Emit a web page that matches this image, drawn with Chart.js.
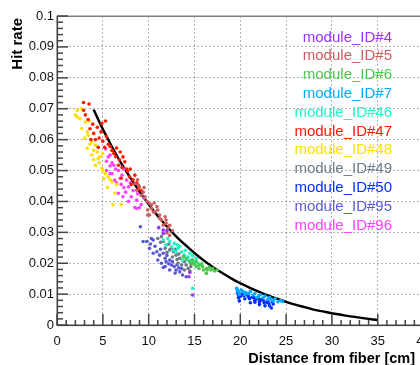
<!DOCTYPE html>
<html>
<head>
<meta charset="utf-8">
<script src="https://cdn.jsdelivr.net/npm/chart.js@4/dist/chart.umd.min.js"></script>
<style>
  html, body { margin: 0; padding: 0; background: #fff; overflow: hidden; }
  #wrap { width: 420px; height: 365px; overflow: hidden; }
</style>
</head>
<body>
<div id="wrap"><canvas id="c" width="440" height="365"></canvas></div>
<script>
/* ====================================================
   HIT RATE vs DISTANCE FROM FIBER (estilo ROOT)
   ==================================================== */

// Eixos
const xTicks = [0, 5, 10, 15, 20, 25, 30, 35, 40];
const yTicks = [0, 0.01, 0.02, 0.03, 0.04, 0.05, 0.06, 0.07, 0.08, 0.09, 0.1];

// Rótulos e cores de cada módulo (ordem da legenda)
const moduleLabels = ['module_ID#4', 'module_ID#5', 'module_ID#6', 'module_ID#7', 'module_ID#46',
    'module_ID#47', 'module_ID#48', 'module_ID#49', 'module_ID#50', 'module_ID#95', 'module_ID#96'];
const moduleColors = ['#9b30ff', '#cd5c5c', '#4cc84c', '#00aaff', '#20f5c8',
    '#ff1a00', '#ffe000', '#6e7b85', '#0030ff', '#5a5ad6', '#ff40ff'];

// Pontos [distância cm, hit rate]
const id4 = [[11.1,0.0315],[11.6,0.0307],[11.6,0.0296],[12.0,0.0305],[14.4,0.0156],[14.8,0.0097],[14.5,0.0170]];

const id5 = [[8.5,0.0458],[8.9,0.0453],[8.7,0.0436],[9.4,0.043],[9.6,0.0415],[9.8,0.040],[10.1,0.0393],[10.3,0.0377],
    [10.5,0.0366],[10.9,0.0383],[10.1,0.0356],[11.2,0.0356],[11.4,0.034],[11.8,0.035],[11.9,0.0329],[12.3,0.0323],
    [9.9,0.0356],[10.7,0.0366],[11.2,0.0345],[11.6,0.0323],[11.9,0.034],[12.1,0.0313],[12.3,0.029],[9.9,0.0372],
    [10.3,0.0388],[9.0,0.0447],[9.2,0.042],[8.8,0.047],[10.6,0.0395],[11.0,0.0372],[12.6,0.0305],[9.5,0.0445],[12.0,0.0298]];

const id6 = [[14.1,0.0216],[14.5,0.0205],[14.8,0.021],[14.8,0.020],[15.2,0.0205],[15.2,0.0189],[15.5,0.0194],
    [15.5,0.0183],[15.9,0.0189],[16.3,0.0183],[16.4,0.0178],[16.8,0.0178],[16.3,0.0167],[17.0,0.0183],[17.5,0.0178],
    [16.6,0.0186],[15.8,0.0198],[16.0,0.0178],[17.2,0.0175],[13.8,0.0222],[15.0,0.0196]];

const id7 = [[19.6,0.0119],[19.7,0.0112],[19.8,0.0106],[20.1,0.0113],[20.3,0.0108],[20.6,0.0105],[20.9,0.0102],
    [21.1,0.0108],[21.4,0.0097],[21.6,0.0102],[22.0,0.0092],[22.2,0.0098],[22.5,0.0088],[22.7,0.0094],[23.0,0.0083],
    [23.2,0.0089],[23.6,0.0078],[23.8,0.0085],[24.1,0.0075],[24.4,0.0079],[24.6,0.0076],[20.5,0.0099],[21.8,0.0089],
    [23.4,0.0082],[19.9,0.0099]];

const id46 = [[11.6,0.0275],[11.9,0.0259],[12.1,0.028],[12.3,0.027],[12.5,0.0253],[12.8,0.0264],[13.2,0.0248],
    [13.0,0.0237],[13.6,0.0237],[13.9,0.0226],[14.3,0.022],[14.6,0.021],[15.0,0.0205],[15.4,0.020],[15.7,0.0194],
    [13.7,0.021],[14.8,0.0119],[13.4,0.0255],[14.0,0.0242],[14.5,0.0232],[12.7,0.0242],[14.2,0.021],[15.2,0.0215],
    [13.1,0.026],[14.8,0.0225]];

const id47 = [[2.9,0.072],[3.5,0.0715],[2.9,0.0695],[3.1,0.068],[3.4,0.0665],[3.9,0.065],[4.4,0.064],[4.9,0.0652],
    [5.3,0.066],[3.6,0.0635],[4.0,0.062],[4.2,0.060],[4.6,0.0605],[5.0,0.0595],[5.4,0.061],[5.8,0.0578],[6.5,0.0573],
    [6.9,0.056],[6.2,0.0555],[7.2,0.0544],[7.4,0.0528],[7.1,0.051],[7.7,0.0498],[6.7,0.0517],[7.9,0.048],[8.3,0.047],
    [8.1,0.0455],[8.7,0.046],[8.9,0.044],[9.2,0.0435],[5.6,0.0585],[6.0,0.0565],[4.8,0.0625],[5.2,0.0575],[6.4,0.0545],
    [6.8,0.0535],[7.6,0.0505],[8.5,0.0485],[3.7,0.060],[4.5,0.0575],[7.0,0.0475],[8.0,0.0505]];

const id48 = [[2.2,0.0695],[2.7,0.070],[2.2,0.0673],[2.5,0.0668],[3.1,0.0657],[2.7,0.0636],[3.3,0.0625],[3.4,0.0614],
    [3.8,0.0593],[4.2,0.0582],[3.3,0.0572],[4.4,0.056],[3.8,0.055],[4.5,0.0539],[4.2,0.0517],[4.9,0.0507],[5.3,0.049],
    [5.1,0.0474],[5.6,0.048],[6.0,0.0463],[5.0,0.050],[6.3,0.0427],[6.1,0.039],[7.0,0.039],[5.8,0.047],[3.0,0.0605],
    [3.6,0.0585],[4.0,0.0565],[4.7,0.0545],[5.0,0.0555],[2.0,0.068],[3.5,0.066],[4.6,0.0525],[5.5,0.0445],[6.5,0.0455],
    [4.0,0.0535]];

const id49 = [[11.0,0.028],[11.4,0.0286],[11.6,0.027],[11.9,0.0259],[11.8,0.0248],[12.3,0.0243],[12.7,0.0237],
    [13.0,0.0226],[13.4,0.0216],[13.2,0.020],[13.7,0.021],[14.1,0.0194],[14.3,0.0183],[14.6,0.0189],[13.9,0.0178],
    [13.6,0.0194],[14.5,0.0175],[14.6,0.020],[14.8,0.021],[12.2,0.0262],[12.5,0.025],[12.9,0.0245],[13.3,0.023],
    [12.6,0.022],[13.9,0.0205],[11.3,0.0268],[12.0,0.0235],[14.2,0.0212],[13.1,0.0212]];

const id50 = [[19.7,0.0112],[19.7,0.0104],[19.8,0.0097],[19.8,0.0088],[19.9,0.0078],[20.2,0.0100],[20.4,0.0095],
    [20.5,0.0085],[20.9,0.0092],[21.0,0.0085],[21.1,0.0072],[21.5,0.0088],[21.6,0.0080],[21.6,0.0074],[22.0,0.0084],
    [22.1,0.0075],[22.1,0.0066],[22.5,0.0080],[22.6,0.0072],[22.7,0.0062],[23.0,0.0078],[23.1,0.0070],[23.2,0.0062],
    [23.4,0.0055],[23.5,0.0075],[20.7,0.0098],[21.3,0.0090],[21.8,0.0086],[22.3,0.0082],[22.9,0.0074],[23.6,0.0068],
    [20.0,0.0092]];

const id95 = [[9.1,0.0318],[9.4,0.027],[9.8,0.027],[10.3,0.028],[10.1,0.0248],[10.9,0.0237],[11.2,0.0226],[11.6,0.0232],
    [11.0,0.021],[11.8,0.0216],[11.9,0.0205],[12.3,0.021],[12.5,0.0194],[11.8,0.0189],[12.8,0.0189],[13.0,0.0178],
    [13.4,0.0172],[13.7,0.0162],[14.1,0.0156],[13.6,0.0183],[12.3,0.0178],[11.4,0.020],[10.5,0.0275],[10.7,0.0255],
    [11.3,0.0245],[12.0,0.0225],[12.6,0.0205],[13.1,0.0195],[10.5,0.0232],[11.6,0.0186],[12.9,0.0168],[13.3,0.0185],
    [10.2,0.0262],[12.2,0.0198]];

const id96 = [[5.3,0.057],[5.8,0.055],[5.4,0.053],[6.2,0.0517],[6.7,0.050],[5.8,0.049],[7.1,0.0485],[6.3,0.0469],
    [7.6,0.0469],[8.0,0.046],[5.6,0.0544],[5.4,0.050],[6.0,0.049],[6.5,0.046],[6.7,0.0426],[7.8,0.0447],[8.1,0.0415],
    [8.5,0.038],[8.7,0.0404],[9.2,0.039],[7.8,0.040],[8.7,0.0377],[9.0,0.038],[6.0,0.0525],[6.9,0.0475],[7.3,0.0445],
    [7.0,0.0455],[7.5,0.043],[8.3,0.0435],[6.4,0.0505],[7.3,0.0505],[8.8,0.0425],[9.5,0.041],[7.2,0.0415],[5.8,0.0515]];

const moduleData = [id4, id5, id6, id7, id46, id47, id48, id49, id50, id95, id96];

// Curva ajustada
const fitX = [4, 5, 6, 7, 8, 9, 10, 11, 12, 13, 14, 15, 16, 17, 18, 19, 20, 21, 22, 23, 24, 25,
    26, 27, 28, 29, 30, 31, 32, 33, 34, 35];
const fitY = [0.0697, 0.0634, 0.0577, 0.0524, 0.0477, 0.0432, 0.0391, 0.0353, 0.0319, 0.0287, 0.0259,
    0.0233, 0.0209, 0.0188, 0.0169, 0.0151, 0.0135, 0.0121, 0.0108, 0.0096, 0.0085, 0.0075, 0.0066,
    0.0058, 0.0050, 0.0044, 0.0038, 0.0033, 0.0028, 0.0024, 0.0020, 0.0016];

const FONT = '"Liberation Sans", Arial, Helvetica, sans-serif';

// Moldura, ticks internos, legenda e títulos no estilo ROOT
const rootAxes = {
    id: 'rootAxes',
    afterDraw(chart) {
        const ctx = chart.ctx;
        const a = chart.chartArea;
        const x = chart.scales.x;
        const y = chart.scales.y;
        const left = Math.round(a.left);
        const top = Math.round(a.top);
        const bottom = Math.round(a.bottom);
        const right = Math.round(a.right);
        ctx.save();

        // moldura superior (cinza) e eixos
        ctx.fillStyle = '#808080';
        ctx.fillRect(left, top - 0.5, right - left, 1.5);
        ctx.fillStyle = '#444';
        ctx.fillRect(left - 0.5, top, 1.6, bottom - top + 1);
        ctx.fillRect(left, bottom - 0.5, right - left, 1.6);

        // ticks do eixo x (1 cm)
        for (let i = 0; i <= 40; i++) {
            const px = x.getPixelForValue(i);
            const len = i % 5 === 0 ? 11 : 5;
            ctx.fillRect(px - 0.7, bottom - len, 1.5, len);
        }
        // ticks do eixo y (0.002)
        for (let i = 0; i <= 50; i++) {
            const py = y.getPixelForValue(i * 0.002);
            const len = i % 5 === 0 ? 11 : 6;
            ctx.fillRect(left, py - 0.7, len, 1.5);
        }

        // Legenda só com texto colorido
        ctx.font = '15px ' + FONT;
        ctx.textAlign = 'right';
        ctx.textBaseline = 'middle';
        chart.data.datasets.forEach((ds, i) => {
            if (!ds.legend) return;
            ctx.fillStyle = ds.backgroundColor;
            ctx.fillText(ds.label, 392, 37.5 + i * 18.8);
        });

        // Títulos dos eixos
        ctx.fillStyle = '#000';
        ctx.font = 'bold 14.5px ' + FONT;
        ctx.fillText('Distance from fiber [cm]', 415, 359);
        ctx.translate(18, 18);
        ctx.rotate(-Math.PI / 2);
        ctx.font = 'bold 15px ' + FONT;
        ctx.fillText('Hit rate', 0, 0);
        ctx.restore();
    }
};

const datasets = moduleData.map((pts, i) => ({
    label: moduleLabels[i],
    legend: true,
    data: pts.map(p => ({ x: p[0], y: p[1] })),
    backgroundColor: moduleColors[i],
    borderWidth: 0,
    pointRadius: 1.8,
    pointHoverRadius: 1.8
}));

datasets.push({
    label: 'fit',
    type: 'line',
    data: fitX.map((v, i) => ({ x: v, y: fitY[i] })),
    borderColor: '#000',
    borderWidth: 2.4,
    pointRadius: 0,
    cubicInterpolationMode: 'monotone',
    fill: false
});

new Chart(document.getElementById('c'), {
    type: 'scatter',
    data: { datasets },
    options: {
        responsive: false,
        animation: false,
        layout: { padding: { top: 16, right: 16.5, left: 0, bottom: 0 } },
        plugins: { legend: { display: false }, tooltip: { enabled: false } },
        scales: {
            x: {
                min: 0, max: 40,
                afterBuildTicks: s => { s.ticks = xTicks.map(v => ({ value: v })); },
                afterFit: s => { s.height = 40; },
                grid: { color: 'rgba(0,0,0,0.3)', drawTicks: false },
                border: { display: false, dash: [2, 2] },
                ticks: { padding: 9, color: '#111', font: { family: FONT, size: 13 } }
            },
            y: {
                min: 0, max: 0.1,
                afterBuildTicks: s => { s.ticks = yTicks.map(v => ({ value: v })); },
                afterFit: s => { s.width = 57; },
                grid: { color: 'rgba(0,0,0,0.3)', drawTicks: false },
                border: { display: false, dash: [2, 2] },
                ticks: {
                    padding: 3, color: '#111', font: { family: FONT, size: 13 },
                    callback: v => String(+v.toFixed(2))
                }
            }
        }
    },
    plugins: [rootAxes]
});
</script>
</body>
</html>
